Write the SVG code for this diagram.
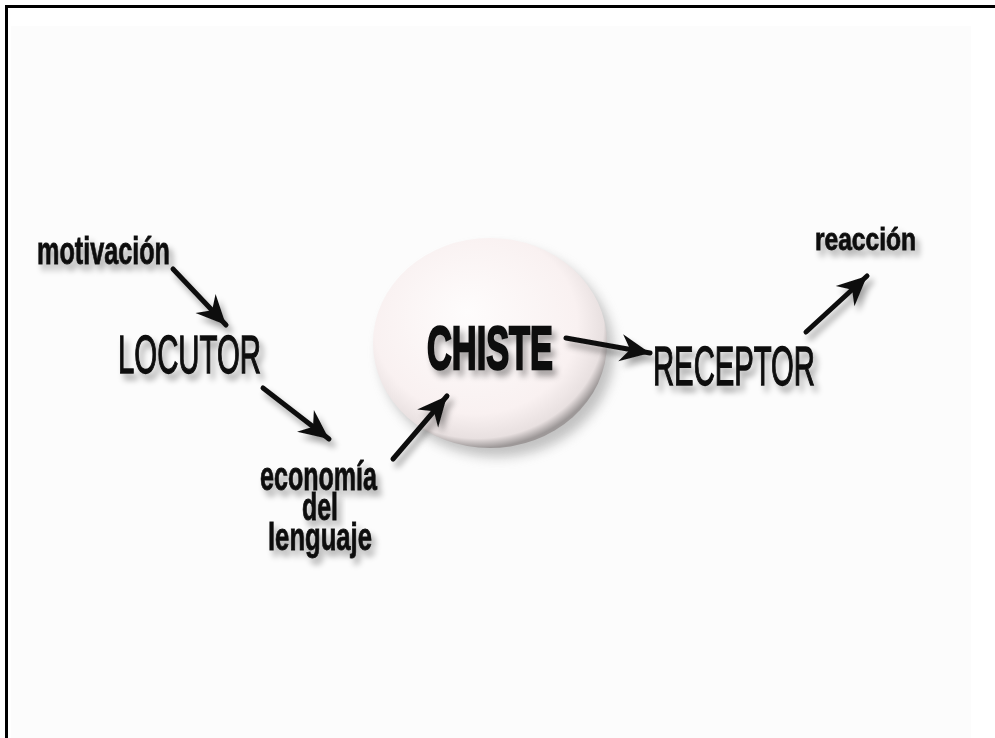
<svg xmlns="http://www.w3.org/2000/svg" width="995" height="738" viewBox="0 0 995 738">
<style>
  .lbl{font-family:"Liberation Sans","Arial",sans-serif;fill:#111;stroke:#111;}
  .b{font-weight:bold;stroke-width:0.8;}
  .n{font-weight:normal;stroke-width:1.4;}
  .con{stroke:#111;stroke-width:5;fill:none;stroke-linecap:round;}
</style>
<defs>
  <filter id="sh" x="-20%" y="-30%" width="140%" height="170%">
    <feGaussianBlur in="SourceAlpha" stdDeviation="3"/>
    <feOffset dx="4" dy="6" result="o"/>
    <feComponentTransfer><feFuncA type="linear" slope="0.35"/></feComponentTransfer>
    <feMerge><feMergeNode/><feMergeNode in="SourceGraphic"/></feMerge>
  </filter>
  <filter id="blur" x="-20%" y="-20%" width="140%" height="140%">
    <feGaussianBlur stdDeviation="6"/>
  </filter>
  <radialGradient id="ball" cx="0.45" cy="0.42" r="0.58" fx="0.4" fy="0.35">
    <stop offset="0" stop-color="#fefcfc"/>
    <stop offset="0.75" stop-color="#f9f1f1"/>
    <stop offset="0.93" stop-color="#e8e0e0"/>
    <stop offset="1" stop-color="#9d9898"/>
  </radialGradient>
  <marker id="ah" markerUnits="userSpaceOnUse" markerWidth="34" markerHeight="34" viewBox="-30 -15 32 30" refX="0" refY="0" orient="auto">
    <path d="M0,0 L-28,-13 L-19,0 L-28,13 Z" fill="#111"/>
  </marker>
</defs>
<rect x="0" y="0" width="995" height="738" fill="#ffffff"/>
<rect x="11" y="26" width="960" height="712" fill="#fcfcfc"/>
<path d="M6.5,738 V6.5 H995" fill="none" stroke="#000" stroke-width="3"/>

<g id="chiste">
  <ellipse cx="497" cy="352" rx="117" ry="105" fill="#888" opacity="0.5" filter="url(#blur)"/>
  <ellipse cx="490" cy="343" rx="117" ry="105" fill="url(#ball)"/>
  <text class="lbl b" x="427" y="369" font-size="62" textLength="126" lengthAdjust="spacingAndGlyphs" style="stroke-width:2.5" filter="url(#sh)">CHISTE</text>
</g>
<g id="motivacion">
  <text class="lbl b" x="37" y="264" font-size="39" textLength="133" lengthAdjust="spacingAndGlyphs" filter="url(#sh)">motivación</text>
</g>
<g id="locutor">
  <text class="lbl n" x="118" y="373" font-size="54" textLength="143" lengthAdjust="spacingAndGlyphs" filter="url(#sh)">LOCUTOR</text>
</g>
<g id="economia">
  <text class="lbl b" x="260" y="490" font-size="40" textLength="117" lengthAdjust="spacingAndGlyphs" filter="url(#sh)">economía</text>
  <text class="lbl b" x="302" y="520" font-size="38" textLength="36" lengthAdjust="spacingAndGlyphs" filter="url(#sh)">del</text>
  <text class="lbl b" x="268" y="550" font-size="38" textLength="104" lengthAdjust="spacingAndGlyphs" filter="url(#sh)">lenguaje</text>
</g>
<g id="receptor">
  <text class="lbl n" x="653" y="385" font-size="55" textLength="162" lengthAdjust="spacingAndGlyphs" filter="url(#sh)">RECEPTOR</text>
</g>
<g id="reaccion">
  <text class="lbl b" x="815" y="250" font-size="31" textLength="101" lengthAdjust="spacingAndGlyphs" filter="url(#sh)">reacción</text>
</g>

<g id="connectors" filter="url(#sh)">
  <line class="con" x1="173" y1="269" x2="226" y2="325" marker-end="url(#ah)"/>
  <line class="con" x1="263" y1="388" x2="329" y2="439" marker-end="url(#ah)"/>
  <line class="con" x1="393" y1="459" x2="447" y2="396" marker-end="url(#ah)"/>
  <line class="con" x1="566" y1="338" x2="650" y2="353" marker-end="url(#ah)"/>
  <line class="con" x1="806" y1="332" x2="867" y2="276" marker-end="url(#ah)"/>
</g>
</svg>
